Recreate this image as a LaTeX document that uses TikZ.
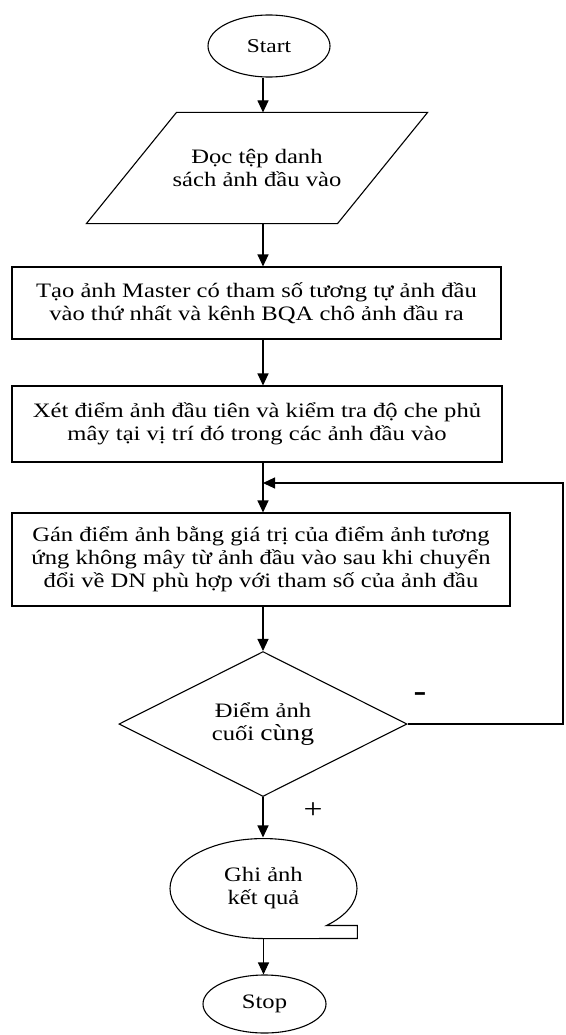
\documentclass[tikz,border=0pt]{standalone}
\usepackage{fontspec}
\setmainfont[FakeStretch=1.2]{Liberation Serif}
\usetikzlibrary{arrows.meta,calc,positioning,shapes.geometric}
\tikzset{
  flowarrow/.style={-{Triangle[length=12pt,width=11pt]}},
  procbox/.style={draw,rectangle,align=center,inner sep=0pt},
  termnode/.style={draw,ellipse,inner sep=0pt},
}

\begin{document}
\begin{tikzpicture}[x=1pt,y=-1pt,line width=1.1pt,font=\fontsize{20.5}{23}\selectfont]
    \useasboundingbox (0,0) rectangle (565,1035);
    \coordinate (flow) at (263,0);
    \node[termnode,minimum width=122pt,minimum height=62pt,font=\fontsize{19.5}{22}\selectfont] (start) at (269,46) {Start};
    \node[align=center,inner sep=0pt,minimum width=250pt,minimum height=110pt] (read) at (257,168)
      {Đọc tệp danh\\sách ảnh đầu vào};
    \draw ([xshift=45pt]read.north west) -- ([xshift=45pt]read.north east)
      -- ([xshift=-45pt]read.south east) -- ([xshift=-45pt]read.south west) -- cycle;
    \node[procbox,minimum width=489pt,minimum height=72pt] (master) at (256.5,303)
      {Tạo ảnh Master có tham số tương tự ảnh đầu\\vào thứ nhất và kênh BQA chô ảnh đầu ra};
    \node[procbox,minimum width=490pt,minimum height=76pt] (scan) at (257,424)
      {Xét điểm ảnh đầu tiên và kiểm tra độ che phủ\\mây tại vị trí đó trong các ảnh đầu vào};
    \node[procbox,minimum width=498pt,minimum height=93pt] (assign) at (261,559.5)
      {Gán điểm ảnh bằng giá trị của điểm ảnh tương\\ứng không mây từ ảnh đầu vào sau khi chuyển\\đổi về DN phù hợp với tham số của ảnh đầu};
    \node[draw,diamond,align=center,inner sep=0pt,minimum width=288pt,minimum height=136pt] (last) at (263,724)
      {Điểm ảnh\\cuối {\fontsize{23}{23}\selectfont cùng}};
    \node[ellipse,align=center,inner sep=0pt,minimum width=187pt,minimum height=100pt] (save) at (263.5,888)
      {Ghi ảnh\\kết quả};
    \draw (save.south) arc[start angle=270,end angle=-47.7,x radius=93.5pt,y radius=50pt]
      -- ++(31pt,0pt) -- ++(0pt,-13pt) -- cycle;
    \node[termnode,minimum width=123pt,minimum height=58pt] (stop) at (264.5,1004) {Stop};
    \coordinate (join) at (263,483);
    \coordinate (loop) at (563,0);
    \draw[flowarrow] (start.south -| flow) -- (read.north -| flow);
    \draw[flowarrow] (read.south -| flow) -- (master.north -| flow);
    \draw[flowarrow] (master.south -| flow) -- (scan.north -| flow);
    \draw[flowarrow] (scan.south -| flow) -- (assign.north -| flow);
    \draw[flowarrow] (last.east) -| (join -| loop) -- (join);
    \draw[flowarrow] (assign.south -| flow) -- (last.north);
    \draw[flowarrow] (last.south) -- (save.north -| last.south);
    \draw[flowarrow] (save.south) -- (stop.north -| save.south);
    \node[font=\fontsize{32}{32}\selectfont\bfseries] (no) at (420,697) {-};
    \node[font=\fontsize{28}{28}\selectfont] (yes) at (313,811) {+};
  \end{tikzpicture}
\end{document}
